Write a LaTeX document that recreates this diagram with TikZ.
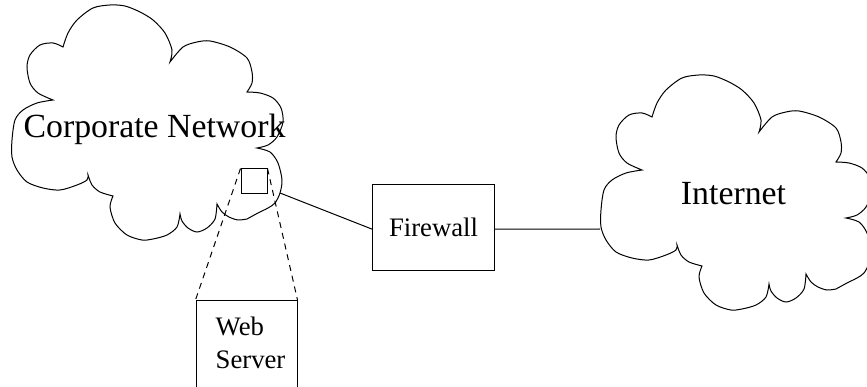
\documentclass[tikz,border=0pt]{standalone}
\usepackage{fontspec}
\setmainfont{Liberation Serif}
\usepackage{tikz}
\usetikzlibrary{positioning}
\tikzstyle{box} = [draw, rectangle, inner sep=0pt, line width=1pt]
\tikzstyle{link} = [line width=1pt]
\tikzstyle{zoomline} = [line width=1pt, dash pattern=on 6pt off 5pt]
\newcommand{\bigfont}{\fontsize{33.8}{40}\selectfont}
\newcommand{\smallfont}{\fontsize{26.7}{33}\selectfont}

\begin{document}
\begin{tikzpicture}[x=1pt,y=-1pt]
\useasboundingbox (0,0) rectangle (867,387);
\clip (0,0) rectangle (867,387);
% the same cloud twice, lobe by lobe
\foreach \dx/\dy in {0/0,589/70}
  \draw[link, shift={(\dx,\dy)}]
    plot[smooth] coordinates {(63,47) (68,33) (77,20) (93,8) (110,5) (125,6) (140,12) (153,20) (165,33) (172,50) (170,62)}
    -- plot[smooth] coordinates {(170,62) (183,47) (197,42) (210,41) (230,47) (247,58) (252,72) (252,83) (247,92)}
    -- plot[smooth] coordinates {(247,92) (260,93) (273,98) (281,108) (283,122) (277,137) (268,145) (257,148)}
    -- plot[smooth] coordinates {(257,148) (270,152) (278,163) (282,180) (280,193) (275,203) (268,208) (258,213) (247,219)}
    -- plot[smooth] coordinates {(247,219) (238,220) (229,217) (222,212) (217,204)}
    -- plot[smooth] coordinates {(217,204) (215,219) (207,228) (197,232) (188,228) (182,221) (180,214)}
    -- plot[smooth] coordinates {(180,214) (177,227) (167,235) (153,239) (142,240) (127,235) (115,223) (110,207) (113,196)}
    -- plot[smooth] coordinates {(113,196) (100,192) (92,185) (88,175)}
    -- plot[smooth] coordinates {(88,175) (87,180) (77,185) (60,190) (43,188) (27,182) (17,170) (12,157) (12,140) (15,120) (23,110) (37,103) (53,100)}
    -- plot[smooth] coordinates {(53,100) (38,93) (30,83) (27,67) (30,55) (40,45) (53,43) (63,47)}
    -- cycle;

\node[font=\bigfont, anchor=base] (corplabel) at (154.5,137.5) {Corporate Network};
\node[font=\bigfont, anchor=base] (netlabel) at (733.5,205) {Internet};

% boxes
\node[box, minimum width=26pt, minimum height=25pt] (srv) at (254,181.5) {};
\node[box, minimum width=121.6pt, minimum height=85.7pt, font=\smallfont] (firewall) at (433.5,227.2) {Firewall};
\node[box, minimum width=101pt, minimum height=110pt, anchor=north] (webserver) at (246.5,300) {};
\node[font=\smallfont, align=left, inner sep=0pt, below right=17pt and 20pt of webserver.north west] (webtext) {Web\\Server};

% links
\coordinate (corpport) at (280,193);
\coordinate (netport) at (600,229);
\draw[link] (corpport) -- ([yshift=-2pt]firewall.west);
\draw[link] ([yshift=-2pt]firewall.east) -- (netport);
\draw[zoomline] (srv.north west) -- (webserver.north west);
\draw[zoomline] (srv.north east) -- (webserver.north east);
\end{tikzpicture}
\end{document}
